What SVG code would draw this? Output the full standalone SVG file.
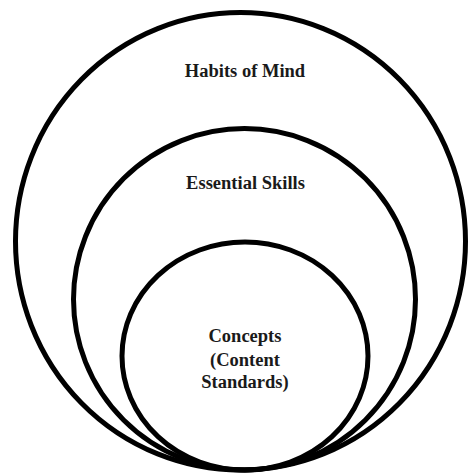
<svg xmlns="http://www.w3.org/2000/svg" width="469" height="475" viewBox="0 0 469 475">
  <style>
    .ring { fill: none; stroke: #000; stroke-width: 5; }
    .label { font-family: "Liberation Serif", "Times New Roman", serif; font-weight: bold; font-size: 18.5px; fill: #1a1a1a; text-anchor: middle; }
  </style>
  <rect width="469" height="475" fill="#fff"/>
  <!-- Outer ring -->
  <g id="habits-of-mind">
    <ellipse class="ring" cx="240.5" cy="241.3" rx="225" ry="228.7"/>
    <text class="label" x="245" y="77">Habits of Mind</text>
  </g>
  <!-- Middle ring -->
  <g id="essential-skills">
    <ellipse class="ring" cx="244.5" cy="299.3" rx="171" ry="170.7"/>
    <text class="label" x="245.5" y="188.5">Essential Skills</text>
  </g>
  <!-- Inner ring -->
  <g id="concepts">
    <ellipse class="ring" cx="245" cy="356" rx="123" ry="114"/>
    <text class="label" x="245" y="342">Concepts</text>
    <text class="label" x="245" y="365.5">(Content</text>
    <text class="label" x="245" y="388">Standards)</text>
  </g>
</svg>
